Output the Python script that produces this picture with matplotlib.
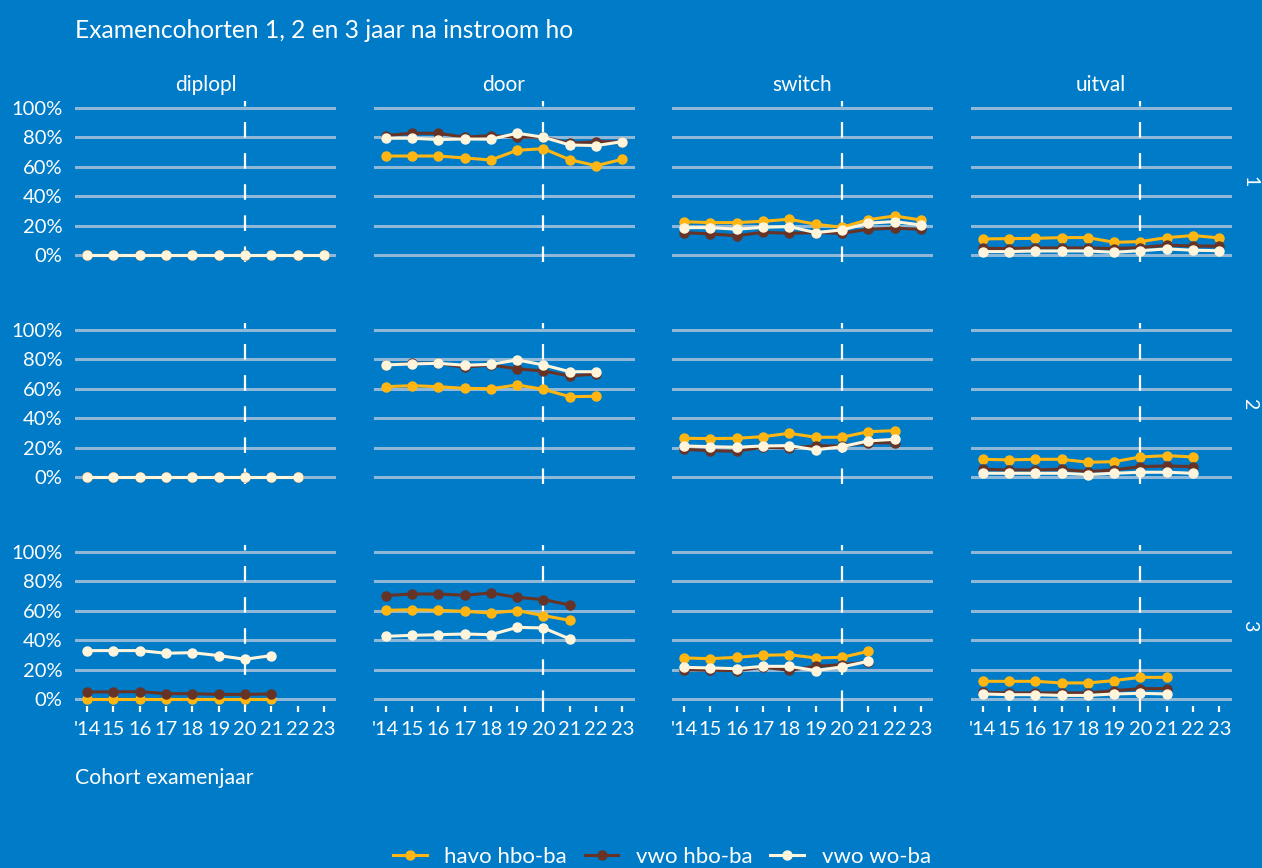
import matplotlib.pyplot as plt
from matplotlib.lines import Line2D

BG = "#007bc7"
GRID = "#8fb8d8"
WHITE = "#ffffff"

plt.rcParams["font.family"] = ["Lato", "DejaVu Sans"]

years = [14, 15, 16, 17, 18, 19, 20, 21, 22, 23]
year_labels = ["'14", "15", "16", "17", "18", "19", "20", "21", "22", "23"]
columns = ["diplopl", "door", "switch", "uitval"]
rows = ["1", "2", "3"]
series = ["havo hbo-ba", "vwo hbo-ba", "vwo wo-ba"]
colors = ["#ffb612", "#673327", "#fff4dc"]

# waarden in procenten, per facet en per groep
diplopl_1_havo = [0, 0, 0, 0, 0, 0, 0, 0, 0, 0]
diplopl_1_vhbo = [0, 0, 0, 0, 0, 0, 0, 0, 0, 0]
diplopl_1_vwo = [0, 0, 0, 0, 0, 0, 0, 0, 0, 0]
door_1_havo = [67.3, 67.3, 67.3, 66.0, 64.6, 71.2, 72.3, 64.8, 60.7, 65.1]
door_1_vhbo = [81.2, 82.8, 82.8, 80.1, 81.2, 80.1, 80.1, 76.0, 77.0, 77.0]
door_1_vwo = [79.4, 79.4, 78.5, 78.9, 78.7, 82.8, 80.1, 74.8, 74.4, 77.1]
switch_1_havo = [22.6, 22.0, 22.0, 22.9, 24.3, 20.9, 18.8, 24.0, 26.5, 23.8]
switch_1_vhbo = [15.2, 14.3, 13.1, 15.4, 14.7, 15.2, 14.7, 17.5, 18.2, 17.5]
switch_1_vwo = [18.6, 18.6, 17.5, 18.8, 19.3, 15.2, 17.0, 21.6, 22.7, 20.4]
uitval_1_havo = [10.9, 11.1, 11.3, 11.8, 11.8, 8.6, 9.1, 11.8, 13.2, 11.6]
uitval_1_vhbo = [4.5, 4.3, 4.8, 4.8, 4.8, 4.3, 5.0, 6.6, 6.1, 5.9]
uitval_1_vwo = [2.3, 2.3, 2.7, 2.7, 2.7, 1.8, 2.9, 4.1, 3.2, 2.9]

diplopl_2_havo = [0, 0, 0, 0, 0, 0, 0, 0, 0]
diplopl_2_vhbo = [0, 0, 0, 0, 0, 0, 0, 0, 0]
diplopl_2_vwo = [0, 0, 0, 0, 0, 0, 0, 0, 0]
door_2_havo = [61.4, 62.1, 61.4, 60.3, 60.0, 62.6, 59.6, 54.6, 54.9]
door_2_vhbo = [76.2, 77.3, 77.3, 74.6, 76.2, 73.5, 72.1, 68.7, 70.1]
door_2_vwo = [76.2, 76.9, 77.3, 76.0, 76.6, 79.6, 76.2, 71.6, 71.6]
switch_2_havo = [26.3, 26.1, 26.3, 27.4, 29.7, 27.0, 27.0, 30.8, 31.5]
switch_2_vhbo = [18.8, 17.9, 17.5, 20.2, 19.7, 21.1, 21.1, 23.3, 23.3]
switch_2_vwo = [21.1, 20.6, 20.2, 21.1, 21.3, 18.4, 20.6, 24.5, 25.6]
uitval_2_havo = [12.0, 11.6, 12.0, 12.0, 10.0, 10.4, 13.6, 14.5, 13.6]
uitval_2_vhbo = [5.2, 4.8, 4.8, 5.2, 3.6, 4.8, 7.0, 7.5, 7.0]
uitval_2_vwo = [2.5, 2.5, 2.5, 2.5, 1.6, 2.5, 3.2, 3.2, 2.5]

diplopl_3_havo = [0, 0, 0, 0, 0, 0, 0, 0]
diplopl_3_vhbo = [4.8, 4.8, 5.0, 3.6, 3.6, 3.1, 3.1, 3.4]
diplopl_3_vwo = [32.9, 32.9, 32.9, 31.1, 31.5, 29.5, 27.0, 29.5]
door_3_havo = [60.3, 60.7, 60.3, 59.6, 58.5, 60.1, 56.7, 53.5]
door_3_vhbo = [70.3, 71.4, 71.4, 70.5, 72.1, 69.1, 67.6, 63.9]
door_3_vwo = [42.6, 43.3, 43.7, 44.2, 43.7, 48.7, 48.3, 40.8]
switch_3_havo = [27.9, 27.4, 28.3, 29.7, 30.1, 27.9, 28.3, 32.4]
switch_3_vhbo = [19.9, 19.5, 19.3, 21.6, 19.5, 22.2, 23.3, 25.2]
switch_3_vwo = [21.5, 21.1, 20.6, 22.2, 22.2, 19.3, 21.8, 25.6]
uitval_3_havo = [12.0, 12.0, 12.0, 10.9, 10.9, 12.5, 14.7, 14.7]
uitval_3_vhbo = [4.5, 4.1, 4.1, 4.1, 4.1, 5.6, 7.0, 7.0]
uitval_3_vwo = [3.4, 2.9, 2.9, 2.4, 2.4, 3.4, 3.8, 3.4]

facets = {
    ("diplopl", "1"): (diplopl_1_havo, diplopl_1_vhbo, diplopl_1_vwo),
    ("door", "1"): (door_1_havo, door_1_vhbo, door_1_vwo),
    ("switch", "1"): (switch_1_havo, switch_1_vhbo, switch_1_vwo),
    ("uitval", "1"): (uitval_1_havo, uitval_1_vhbo, uitval_1_vwo),
    ("diplopl", "2"): (diplopl_2_havo, diplopl_2_vhbo, diplopl_2_vwo),
    ("door", "2"): (door_2_havo, door_2_vhbo, door_2_vwo),
    ("switch", "2"): (switch_2_havo, switch_2_vhbo, switch_2_vwo),
    ("uitval", "2"): (uitval_2_havo, uitval_2_vhbo, uitval_2_vwo),
    ("diplopl", "3"): (diplopl_3_havo, diplopl_3_vhbo, diplopl_3_vwo),
    ("door", "3"): (door_3_havo, door_3_vhbo, door_3_vwo),
    ("switch", "3"): (switch_3_havo, switch_3_vhbo, switch_3_vwo),
    ("uitval", "3"): (uitval_3_havo, uitval_3_vhbo, uitval_3_vwo),
}

W, H = 1262, 868
fig = plt.figure(figsize=(W / 100, H / 100), dpi=100, facecolor=BG)

# panel positions in pixels
col_x = [75, 373.5, 672, 970.5]
panel_w = 261
row_top = [100.6, 322.6, 544.6]
panel_h = 161.7

for r, row in enumerate(rows):
    for c, col in enumerate(columns):
        left = col_x[c] / W
        bottom = 1 - (row_top[r] + panel_h) / H
        ax = fig.add_axes([left, bottom, panel_w / W, panel_h / H])
        ax.set_facecolor(BG)
        ax.set_xlim(13.54, 23.46)
        ax.set_ylim(-0.05, 1.05)
        for s in ax.spines.values():
            s.set_visible(False)
        ax.set_yticks([0, 0.2, 0.4, 0.6, 0.8, 1.0])
        ax.yaxis.grid(True, color=GRID, lw=2.2, zorder=0)
        ax.set_axisbelow(True)
        ax.set_xticks(years)
        if c == 0:
            ax.set_yticklabels(["0%", "20%", "40%", "60%", "80%", "100%"])
        else:
            ax.set_yticklabels([])
        ax.tick_params(axis="y", length=0, pad=9, labelsize=14.5, labelcolor=WHITE)
        if r == len(rows) - 1:
            ax.set_xticklabels(year_labels)
            ax.tick_params(axis="x", length=4.5, width=1.6, color=WHITE, pad=6,
                           labelsize=14.5, labelcolor=WHITE)
        else:
            ax.tick_params(axis="x", length=0, labelbottom=False)

        ax.axvline(20, color=WHITE, lw=1.6, dashes=(7, 7), zorder=1)

        for vals, color in zip(facets[(col, row)], colors):
            xs = years[:len(vals)]
            ys = [v / 100 for v in vals]
            ax.plot(xs, ys, color=color, lw=2.2, marker="o", markersize=6.5,
                    markeredgecolor=color, zorder=3)

        if r == 0:
            ax.set_title(col, color=WHITE, fontsize=15, pad=7)
        if c == len(columns) - 1:
            ax.text(1.07, 0.5, row, transform=ax.transAxes, rotation=-90,
                    ha="center", va="center", color=WHITE, fontsize=14)

fig.text(75 / W, 1 - 30 / H, "Examencohorten 1, 2 en 3 jaar na instroom ho",
         color=WHITE, fontsize=17.7, ha="left", va="center")
fig.text(75 / W, 1 - 778 / H, "Cohort examenjaar", color=WHITE, fontsize=15.3,
         ha="left", va="center")

handles = [Line2D([], [], color=col, lw=2.2, marker="o", markersize=6.5,
                  markeredgecolor=col) for col in colors]
leg = fig.legend(handles, series, loc="center", bbox_to_anchor=(662 / W, 1 - 857 / H),
                 ncol=3, frameon=False, fontsize=16, handlelength=1.5,
                 handletextpad=0.8, columnspacing=0.8, labelcolor=WHITE)

fig.savefig("out.png", dpi=100, facecolor=BG)
